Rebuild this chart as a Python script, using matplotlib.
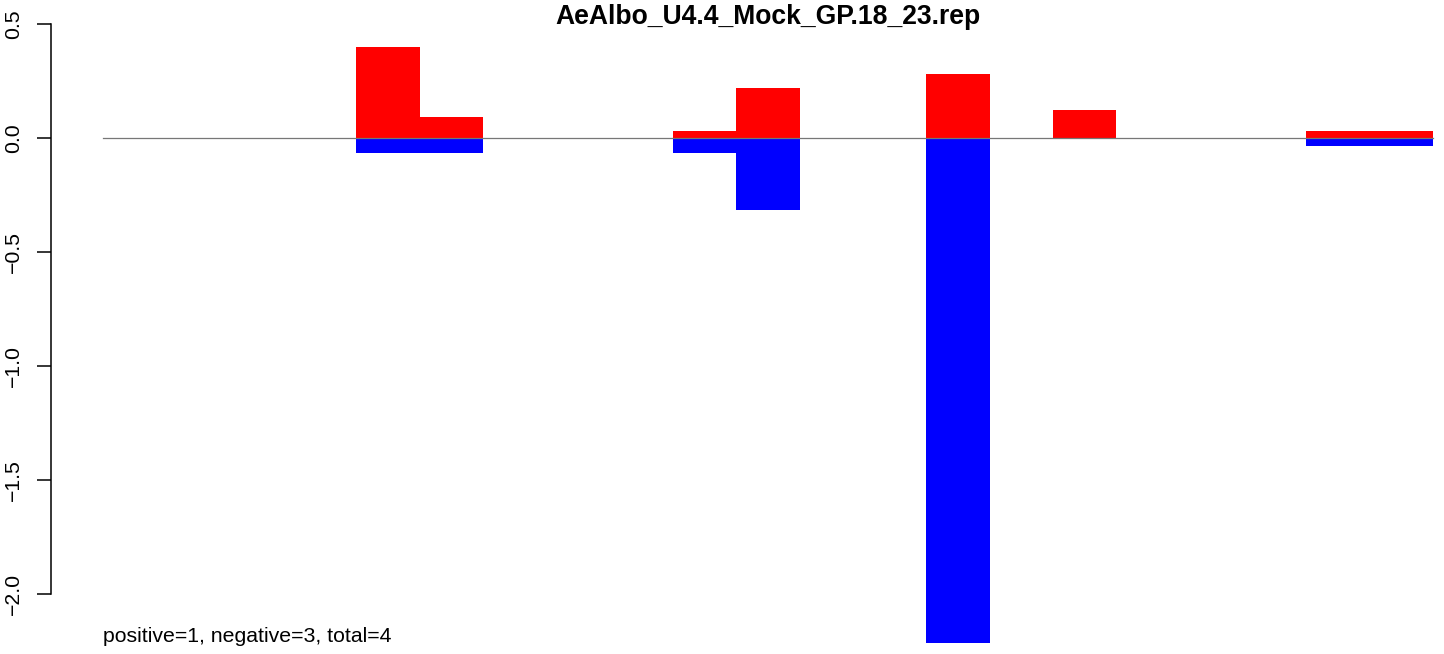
import matplotlib
matplotlib.use("Agg")
import matplotlib.pyplot as plt
import numpy as np

plt.rcParams['font.family'] = ['Liberation Sans', 'DejaVu Sans']

title = "AeAlbo_U4.4_Mock_GP.18_23.rep"
footnote = "positive=1, negative=3, total=4"
n_bins = 21
pos_idx = [4, 5, 9, 10, 13, 15, 19, 20]
pos_vals = [0.40, 0.092, 0.031, 0.219, 0.281, 0.123, 0.031, 0.031]
neg_idx = [4, 5, 9, 10, 13, 19, 20]
neg_vals = [-0.064, -0.064, -0.066, -0.314, -2.214, -0.034, -0.034]
yticks = [0.5, 0.0, -0.5, -1.0, -1.5, -2.0]

W, H = 1444, 654
fig = plt.figure(figsize=(W / 100, H / 100), dpi=100)

# pixel geometry
ax_left_px, ax_right_px = 51, 1440
ax_top_px, ax_bot_px = 10, 650
x0_px, x21_px = 103, 1433
y0_px, ppu = 138, 228.0

ax = fig.add_axes([ax_left_px / W, 1 - ax_bot_px / H,
                   (ax_right_px - ax_left_px) / W, (ax_bot_px - ax_top_px) / H])
pxu = (x21_px - x0_px) / n_bins
ax.set_xlim(-(x0_px - ax_left_px) / pxu, n_bins + (ax_right_px - x21_px) / pxu)
ax.set_ylim(-(ax_bot_px - y0_px) / ppu, (y0_px - ax_top_px) / ppu)

ax.bar(pos_idx, pos_vals, width=1.0, align='edge', color='#ff0000', linewidth=0)
ax.bar(neg_idx, neg_vals, width=1.0, align='edge', color='#0000ff', linewidth=0)
ax.plot([0, n_bins], [0, 0], color='#777777', lw=0.9, zorder=3)

for s in ['top', 'right', 'bottom']:
    ax.spines[s].set_visible(False)
ax.spines['left'].set_bounds(-2.0, 0.5)
ax.spines['left'].set_linewidth(1.1)
ax.set_xticks([])
ax.set_yticks(yticks)
ax.set_yticklabels([f"{v:.1f}".replace('-', '\u2212') for v in yticks],
                   rotation=90, va='center', fontsize=15.3)
ax.tick_params(axis='y', length=10, width=1.1, pad=10)

ax.text(0, (y0_px - 636) / ppu, footnote, fontsize=15.3, ha='left', va='center')
fig.text(767.5 / W, 1 - 24 / H, title, fontsize=19.1, fontweight='bold',
         ha='center', va='baseline')

fig.savefig('out.png', dpi=100)
